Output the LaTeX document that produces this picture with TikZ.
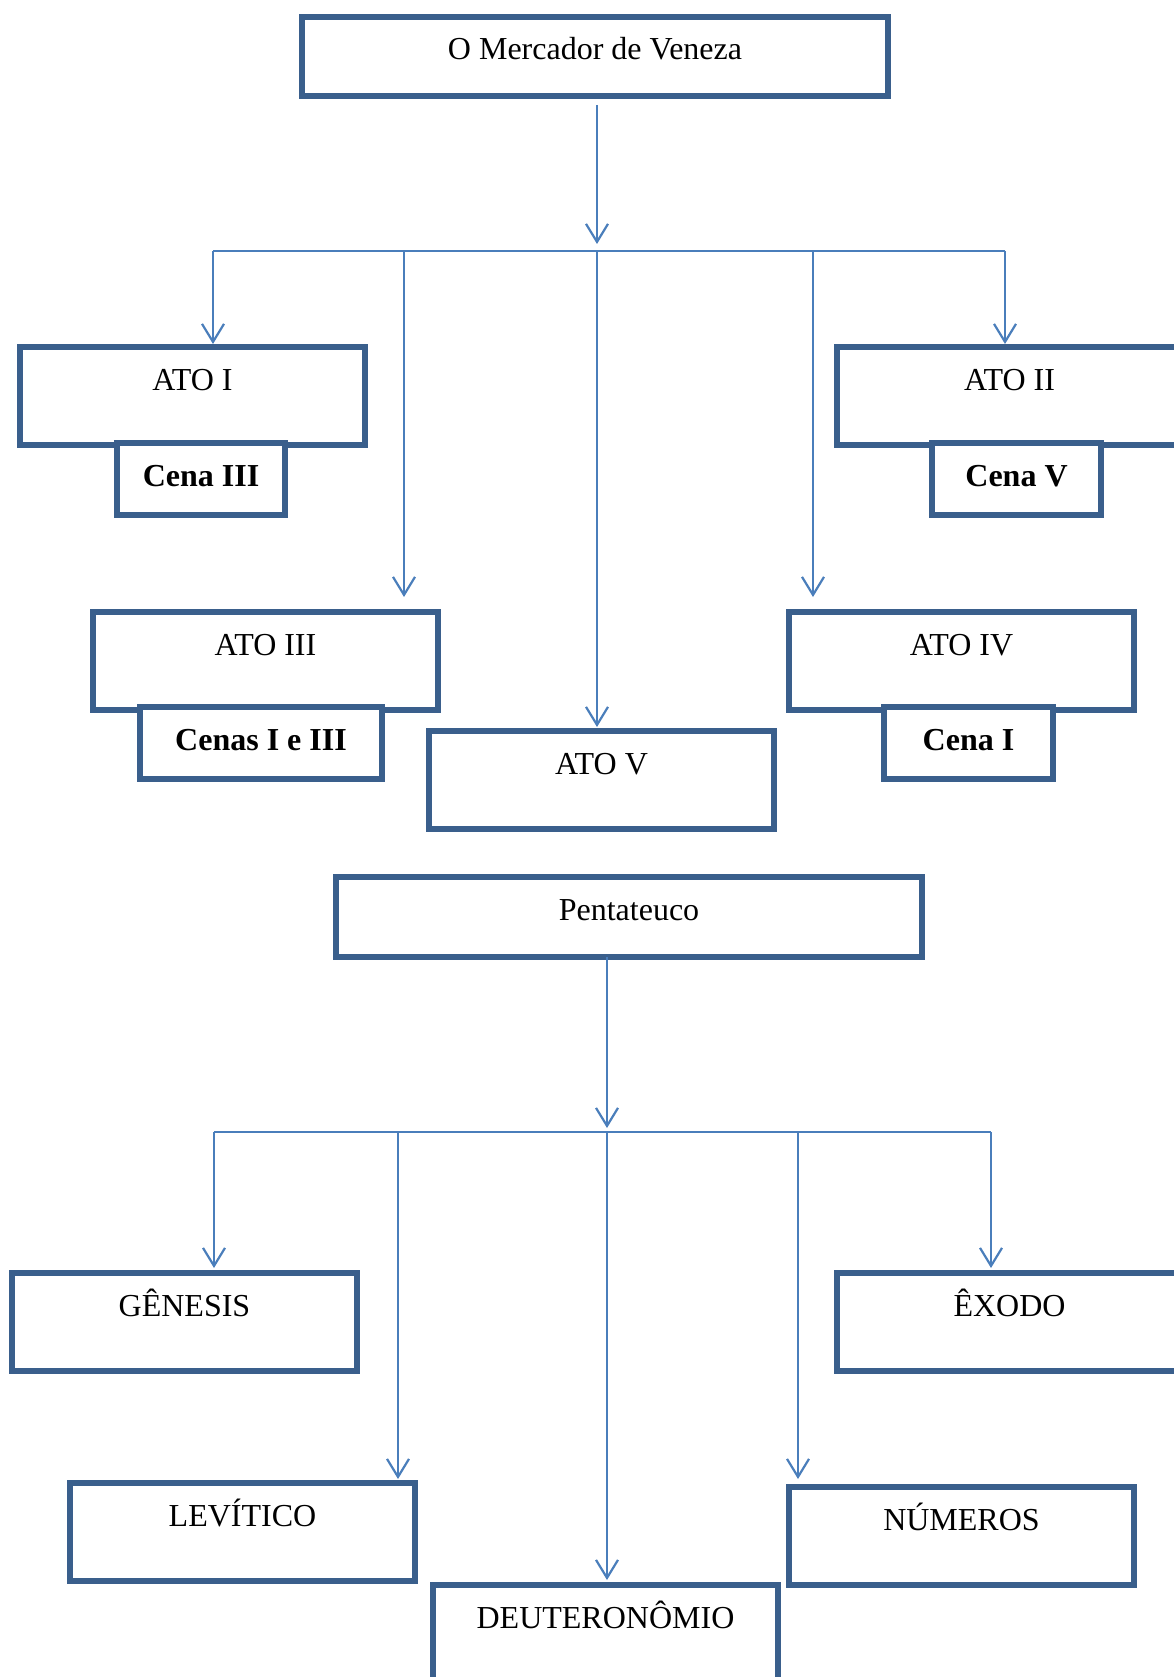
\documentclass[tikz,border=0pt]{standalone}
\usepackage{fontspec}
\setmainfont{Liberation Serif}
\usetikzlibrary{arrows.meta}
\definecolor{boxblue}{HTML}{3A5F8C}
\definecolor{lineblue}{HTML}{4A7EBB}
\tikzset{
  bx/.style={draw=boxblue, line width=5.2pt, fill=white, inner sep=0pt, outer sep=0pt,
    anchor=north west, text height=43pt, font=\fontsize{32}{38}\selectfont},
  titlebox/.style={bx, minimum width=586pt, text depth=36pt},
  actbox/.style={bx, minimum width=345pt, text depth=55pt},
  scenebox/.style={bx, text depth=29pt, font=\fontsize{32}{38}\selectfont\bfseries},
  ln/.style={draw=lineblue, line width=2.2pt},
}
\begin{document}
\begin{tikzpicture}[x=1pt, y=-1pt, >={Straight Barb[length=18pt,width=22pt]}]
  \useasboundingbox (0,0) rectangle (1173,1677);
  % first tree
  \node[titlebox] (merc) at (302,17) {O Mercador de Veneza};
  \node[actbox] (ato1) at (20,347) {ATO I};
  \node[scenebox, minimum width=168pt] (cena3) at (117,443) {Cena III};
  \node[actbox] (ato2) at (837,347) {ATO II};
  \node[scenebox, minimum width=169pt] (cena5) at (932,443) {Cena V};
  \node[actbox] (ato3) at (93,612) {ATO III};
  \node[scenebox, minimum width=242pt] (cenas13) at (140,707) {Cenas I e III};
  \node[actbox] (ato5) at (429,731) {ATO V};
  \node[actbox] (ato4) at (789,612) {ATO IV};
  \node[scenebox, minimum width=169pt] (cena1) at (884,707) {Cena I};
  \coordinate (a1) at (213,251);
  \coordinate (a3) at (404,251);
  \coordinate (a5) at (597,251);
  \coordinate (a4) at (813,251);
  \coordinate (a2) at (1005,251);
  \draw[ln, ->, shorten <=9pt, shorten >=7pt] (merc.south -| a5) -- (a5);
  \draw[ln] (a1) -- (a2);
  \draw[ln, ->, shorten >=3pt] (a1) -- (a1 |- ato1.north);
  \draw[ln, ->, shorten >=15pt] (a3) -- (a3 |- ato3.north);
  \draw[ln, ->, shorten >=4pt] (a5) -- (a5 |- ato5.north);
  \draw[ln, ->, shorten >=15pt] (a4) -- (a4 |- ato4.north);
  \draw[ln, ->, shorten >=3pt] (a2) -- (a2 |- ato2.north);
  % second tree
  \node[titlebox, text depth=37pt] (pent) at (336,877) {Pentateuco};
  \node[actbox] (gen) at (12,1273) {GÊNESIS};
  \node[actbox] (exo) at (837,1273) {ÊXODO};
  \node[actbox] (lev) at (70,1483) {LEVÍTICO};
  \node[actbox] (num) at (789,1487) {NÚMEROS};
  \node[actbox] (deut) at (433,1585) {DEUTERONÔMIO};
  \coordinate (b1) at (214,1132);
  \coordinate (b3) at (398,1132);
  \coordinate (b5) at (607,1132);
  \coordinate (b4) at (798,1132);
  \coordinate (b2) at (991,1132);
  \draw[ln, ->, shorten >=4pt] (b5 |- pent.south) -- (b5);
  \draw[ln] (b1) -- ++(3,0) -| (b2);
  \draw[ln, ->, shorten >=5pt] (b1) -- (b1 |- gen.north);
  \draw[ln, ->, shorten >=4pt] (b3) -- (b3 |- lev.north);
  \draw[ln, ->, shorten >=5pt] (b5) -- (b5 |- deut.north);
  \draw[ln, ->, shorten >=8pt] (b4) -- (b4 |- num.north);
  \draw[ln, ->, shorten >=5pt] (b2) -- (b2 |- exo.north);
\end{tikzpicture}
\end{document}
